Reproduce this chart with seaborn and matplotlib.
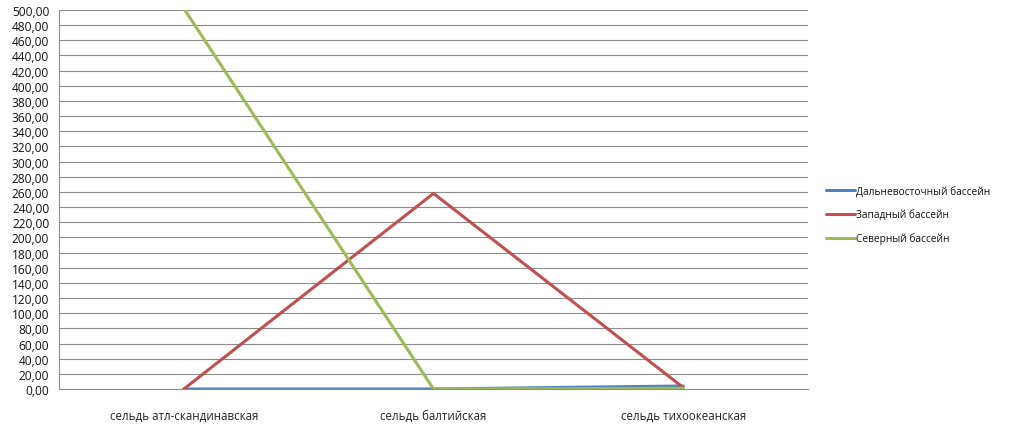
import matplotlib
matplotlib.use("Agg")
import matplotlib.pyplot as plt
import seaborn as sns
import pandas as pd
import numpy as np
from matplotlib.ticker import MultipleLocator, FuncFormatter, FixedLocator

categories = ["сельдь атл-скандинавская", "сельдь балтийская", "сельдь тихоокеанская"]
series_names = ["Дальневосточный бассейн", "Западный бассейн", "Северный бассейн"]
far_east = [0.0, 0.0, 4.0]
western = [0.0, 258.0, 2.0]
northern = [502.0, 0.0, 1.0]
colors = ["#4F81BD", "#C0504D", "#9BBB59"]

rows = []
for name, vals in zip(series_names, [far_east, western, northern]):
    for i, (c, v) in enumerate(zip(categories, vals)):
        rows.append({"cat": c, "pos": i, "value": v, "series": name})
df = pd.DataFrame(rows)

sns.set_style("white")
plt.rcParams["font.family"] = ["Open Sans", "DejaVu Sans"]

fig = plt.figure(figsize=(10.24, 4.31), dpi=100)
ax = fig.add_axes([59/1024, 1-390/431, (808-59)/1024, (390-11)/431])

sns.lineplot(data=df, x="pos", y="value", hue="series", palette=colors,
             hue_order=series_names, linewidth=2.2, ax=ax, sort=False,
             estimator=None, legend=True)

ax.set_xlim(-0.5, 2.5)
ax.set_ylim(0, 500)
ax.yaxis.set_major_locator(MultipleLocator(20))
ax.yaxis.set_major_formatter(FuncFormatter(lambda v, p: f"{v:.2f}".replace(".", ",")))
ax.grid(axis="y", color="#8c8c8c", linewidth=0.8)
ax.set_axisbelow(True)
ax.set_xticks(range(len(categories)))
ax.set_xticklabels(categories)
ax.xaxis.set_minor_locator(FixedLocator([-0.5, 0.5, 1.5, 2.5]))
ax.tick_params(axis="x", which="major", length=0, pad=14, labelsize=8.3, labelcolor="#222222")
ax.tick_params(axis="x", which="minor", length=4, color="#8c8c8c", direction="out")
ax.tick_params(axis="y", length=4, color="#8c8c8c", direction="out", labelsize=8.6, pad=3, labelcolor="#111111")
for s in ["top", "right"]:
    ax.spines[s].set_visible(False)
for s in ["left", "bottom"]:
    ax.spines[s].set_color("#8c8c8c")
    ax.spines[s].set_linewidth(0.8)
ax.set_xlabel("")
ax.set_ylabel("")

leg = ax.legend(loc="center left", bbox_to_anchor=(817/1024, 1-216/431),
                bbox_transform=fig.transFigure, frameon=False, fontsize=7.3,
                handlelength=2.8, handletextpad=0.1, labelspacing=1.2)
for t in leg.get_texts():
    t.set_color("#111111")
for h in leg.get_lines():
    h.set_linewidth(2.2)

fig.savefig("out.png", dpi=100)
